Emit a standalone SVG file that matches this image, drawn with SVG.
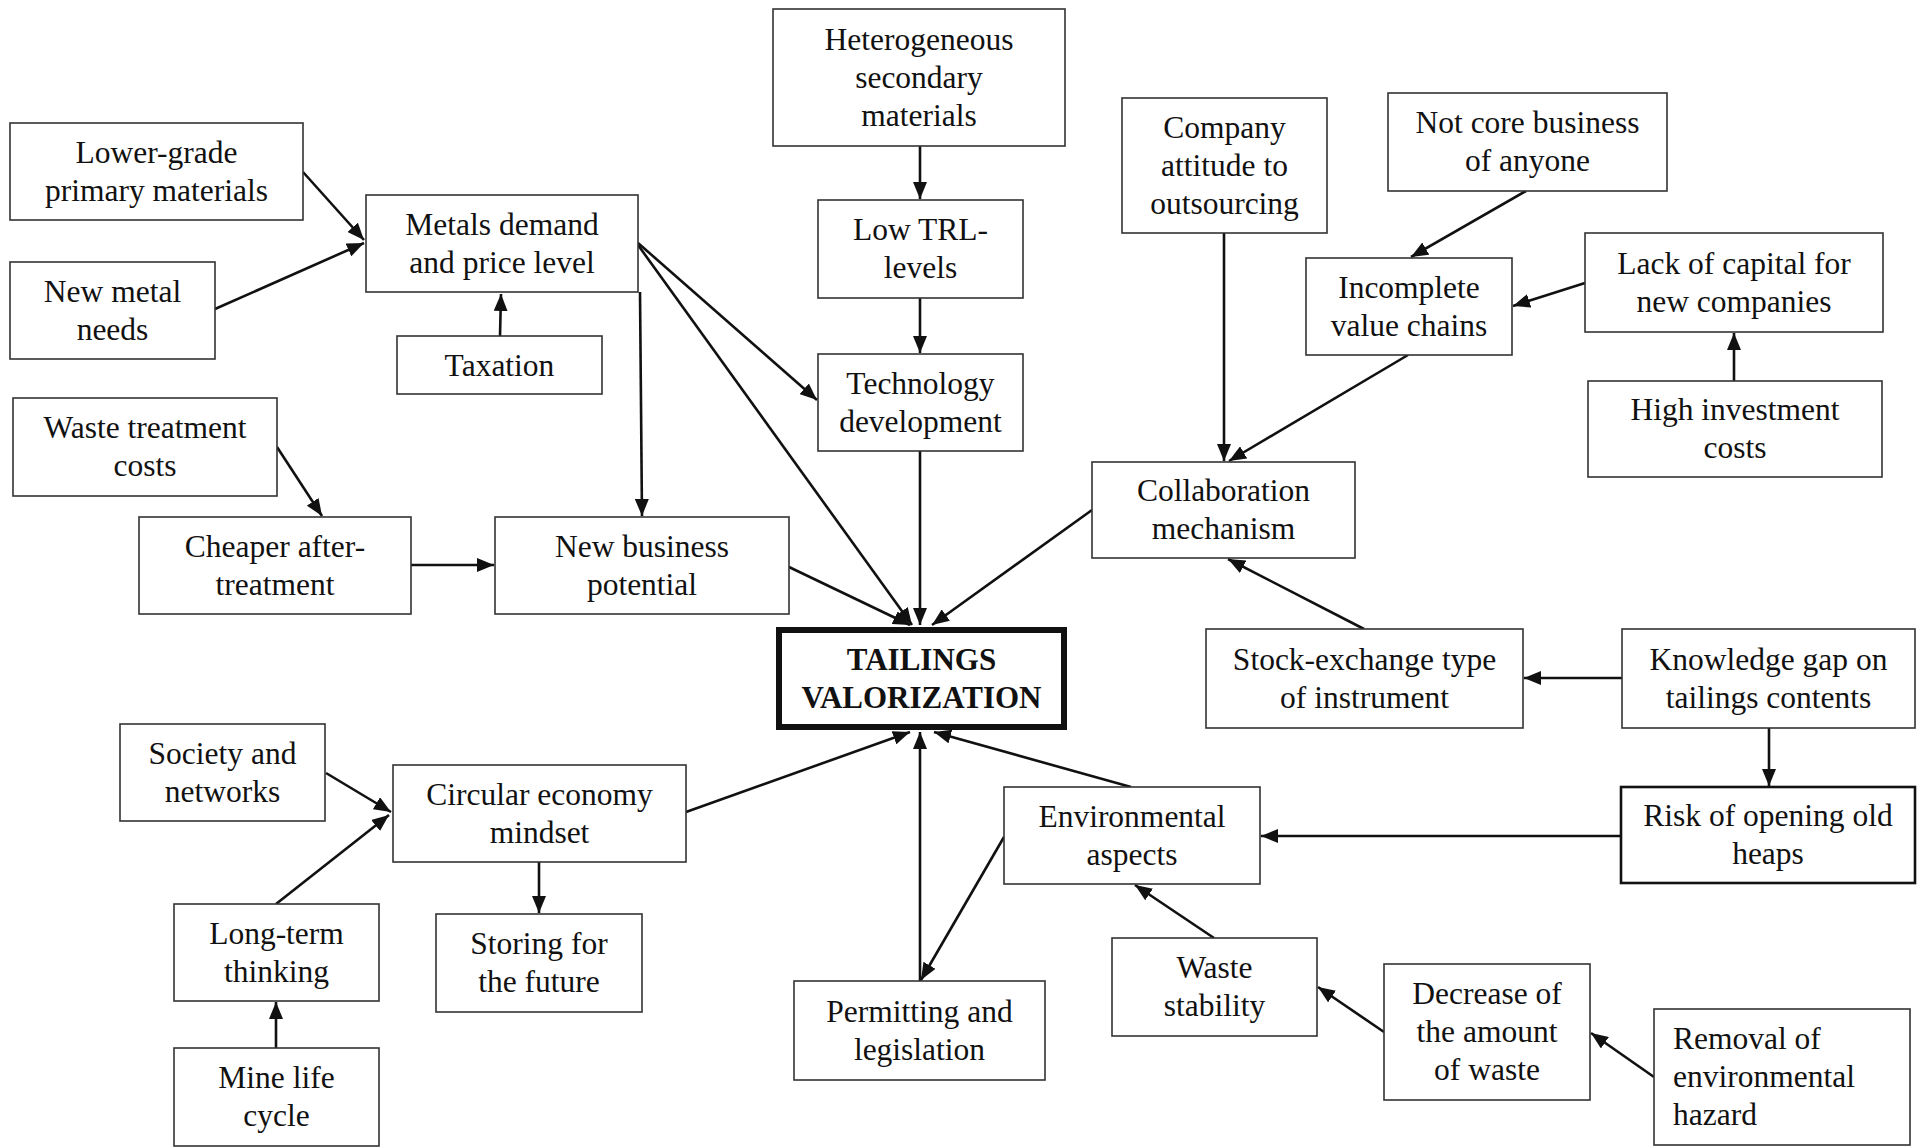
<svg xmlns="http://www.w3.org/2000/svg" width="1925" height="1147" viewBox="0 0 1925 1147">
<style>
.b{fill:#fff;stroke:#333;stroke-width:1.6}
.t{font-family:"Liberation Serif","Times New Roman",serif;font-size:31.5px;fill:#111;text-anchor:middle}
.tl{text-anchor:start}
.bold{font-weight:bold;font-size:31px}
.c line{stroke:#111;stroke-width:2.6}
.a{marker-end:url(#ah)}
</style>
<defs>
<marker id="ah" markerUnits="userSpaceOnUse" markerWidth="18" markerHeight="14" refX="17" refY="7" orient="auto">
<path d="M0,0 L17,7 L0,14 z" fill="#111"/>
</marker>
</defs>
<rect width="1925" height="1147" fill="#fff"/>
<g class="c" id="connectors">
<line class="a" x1="303" y1="172" x2="364" y2="240"/>
<line class="a" x1="215" y1="309" x2="364" y2="243"/>
<line class="a" x1="500" y1="336" x2="501" y2="294"/>
<line class="a" x1="638" y1="243" x2="817" y2="400"/>
<line class="a" x1="638" y1="245" x2="912" y2="625"/>
<line class="a" x1="640" y1="292" x2="642" y2="516"/>
<line class="a" x1="920" y1="146" x2="920" y2="199"/>
<line class="a" x1="920" y1="298" x2="920" y2="353"/>
<line class="a" x1="920" y1="451" x2="920" y2="625"/>
<line class="a" x1="1224" y1="233" x2="1224" y2="461"/>
<line class="a" x1="1408" y1="355" x2="1229" y2="461"/>
<line class="a" x1="1526" y1="191" x2="1411" y2="257"/>
<line class="a" x1="1585" y1="283" x2="1513" y2="306"/>
<line class="a" x1="1734" y1="381" x2="1734" y2="333"/>
<line class="a" x1="277" y1="447" x2="322" y2="516"/>
<line class="a" x1="411" y1="565" x2="494" y2="565"/>
<line class="a" x1="789" y1="567" x2="910" y2="625"/>
<line class="a" x1="1092" y1="510" x2="932" y2="625"/>
<line class="a" x1="1364" y1="629" x2="1228" y2="559"/>
<line class="a" x1="1622" y1="678" x2="1524" y2="678"/>
<line class="a" x1="1769" y1="728" x2="1769" y2="786"/>
<line class="a" x1="1621" y1="836" x2="1261" y2="836"/>
<line class="a" x1="1131" y1="787" x2="934" y2="732"/>
<line class="a" x1="1004" y1="837" x2="921" y2="980"/>
<line class="a" x1="920" y1="981" x2="920" y2="732"/>
<line class="a" x1="686" y1="812" x2="910" y2="732"/>
<line class="a" x1="326" y1="773" x2="391" y2="812"/>
<line class="a" x1="276" y1="904" x2="389" y2="815"/>
<line class="a" x1="539" y1="862" x2="539" y2="913"/>
<line class="a" x1="276" y1="1048" x2="276" y2="1002"/>
<line class="a" x1="1214" y1="938" x2="1135" y2="885"/>
<line class="a" x1="1384" y1="1032" x2="1318" y2="987"/>
<line class="a" x1="1654" y1="1077" x2="1591" y2="1033"/>
</g>
<g id="n-lowergrade"><rect class="b" x="10" y="123" width="293" height="97"/><text class="t" x="156.5" y="162.5">Lower-grade</text><text class="t" x="156.5" y="200.5">primary materials</text></g>
<g id="n-newmetal"><rect class="b" x="10" y="262" width="205" height="97"/><text class="t" x="112.5" y="301.5">New metal</text><text class="t" x="112.5" y="339.5">needs</text></g>
<g id="n-metals"><rect class="b" x="366" y="195" width="272" height="97"/><text class="t" x="502" y="234.5">Metals demand</text><text class="t" x="502" y="272.5">and price level</text></g>
<g id="n-taxation"><rect class="b" x="397" y="336" width="205" height="58"/><text class="t" x="499.5" y="376">Taxation</text></g>
<g id="n-hetero"><rect class="b" x="773" y="9" width="292" height="137"/><text class="t" x="919" y="49.5">Heterogeneous</text><text class="t" x="919" y="87.5">secondary</text><text class="t" x="919" y="125.5">materials</text></g>
<g id="n-lowtrl"><rect class="b" x="818" y="200" width="205" height="98"/><text class="t" x="920.5" y="240">Low TRL-</text><text class="t" x="920.5" y="278">levels</text></g>
<g id="n-tech"><rect class="b" x="818" y="354" width="205" height="97"/><text class="t" x="920.5" y="393.5">Technology</text><text class="t" x="920.5" y="431.5">development</text></g>
<g id="n-company"><rect class="b" x="1122" y="98" width="205" height="135"/><text class="t" x="1224.5" y="137.5">Company</text><text class="t" x="1224.5" y="175.5">attitude to</text><text class="t" x="1224.5" y="213.5">outsourcing</text></g>
<g id="n-notcore"><rect class="b" x="1388" y="93" width="279" height="98"/><text class="t" x="1527.5" y="133">Not core business</text><text class="t" x="1527.5" y="171">of anyone</text></g>
<g id="n-incomplete"><rect class="b" x="1306" y="258" width="206" height="97"/><text class="t" x="1409" y="297.5">Incomplete</text><text class="t" x="1409" y="335.5">value chains</text></g>
<g id="n-lack"><rect class="b" x="1585" y="233" width="298" height="99"/><text class="t" x="1734" y="273.5">Lack of capital for</text><text class="t" x="1734" y="311.5">new companies</text></g>
<g id="n-high"><rect class="b" x="1588" y="381" width="294" height="96"/><text class="t" x="1735" y="420">High investment</text><text class="t" x="1735" y="458">costs</text></g>
<g id="n-wastetreat"><rect class="b" x="13" y="398" width="264" height="98"/><text class="t" x="145" y="438">Waste treatment</text><text class="t" x="145" y="476">costs</text></g>
<g id="n-cheaper"><rect class="b" x="139" y="517" width="272" height="97"/><text class="t" x="275" y="556.5">Cheaper after-</text><text class="t" x="275" y="594.5">treatment</text></g>
<g id="n-newbusiness"><rect class="b" x="495" y="517" width="294" height="97"/><text class="t" x="642" y="556.5">New business</text><text class="t" x="642" y="594.5">potential</text></g>
<g id="n-collab"><rect class="b" x="1092" y="462" width="263" height="96"/><text class="t" x="1223.5" y="501">Collaboration</text><text class="t" x="1223.5" y="539">mechanism</text></g>
<g id="n-tailings"><rect class="b" x="779" y="630" width="285" height="97" style="stroke:#111;stroke-width:6"/><text class="t bold" x="921.5" y="670">TAILINGS</text><text class="t bold" x="921.5" y="708">VALORIZATION</text></g>
<g id="n-stock"><rect class="b" x="1206" y="629" width="317" height="99"/><text class="t" x="1364.5" y="669.5">Stock-exchange type</text><text class="t" x="1364.5" y="707.5">of instrument</text></g>
<g id="n-knowledge"><rect class="b" x="1622" y="629" width="293" height="99"/><text class="t" x="1768.5" y="669.5">Knowledge gap on</text><text class="t" x="1768.5" y="707.5">tailings contents</text></g>
<g id="n-risk"><rect class="b" x="1621" y="787" width="294" height="96" style="stroke:#111;stroke-width:2.6"/><text class="t" x="1768" y="826">Risk of opening old</text><text class="t" x="1768" y="864">heaps</text></g>
<g id="n-env"><rect class="b" x="1004" y="787" width="256" height="97"/><text class="t" x="1132" y="826.5">Environmental</text><text class="t" x="1132" y="864.5">aspects</text></g>
<g id="n-society"><rect class="b" x="120" y="724" width="205" height="97"/><text class="t" x="222.5" y="763.5">Society and</text><text class="t" x="222.5" y="801.5">networks</text></g>
<g id="n-circular"><rect class="b" x="393" y="765" width="293" height="97"/><text class="t" x="539.5" y="804.5">Circular economy</text><text class="t" x="539.5" y="842.5">mindset</text></g>
<g id="n-longterm"><rect class="b" x="174" y="904" width="205" height="97"/><text class="t" x="276.5" y="943.5">Long-term</text><text class="t" x="276.5" y="981.5">thinking</text></g>
<g id="n-storing"><rect class="b" x="436" y="914" width="206" height="98"/><text class="t" x="539" y="954">Storing for</text><text class="t" x="539" y="992">the future</text></g>
<g id="n-mine"><rect class="b" x="174" y="1048" width="205" height="98"/><text class="t" x="276.5" y="1088">Mine life</text><text class="t" x="276.5" y="1126">cycle</text></g>
<g id="n-permit"><rect class="b" x="794" y="981" width="251" height="99"/><text class="t" x="919.5" y="1021.5">Permitting and</text><text class="t" x="919.5" y="1059.5">legislation</text></g>
<g id="n-wastestab"><rect class="b" x="1112" y="938" width="205" height="98"/><text class="t" x="1214.5" y="978">Waste</text><text class="t" x="1214.5" y="1016">stability</text></g>
<g id="n-decrease"><rect class="b" x="1384" y="964" width="206" height="136"/><text class="t" x="1487" y="1004">Decrease of</text><text class="t" x="1487" y="1042">the amount</text><text class="t" x="1487" y="1080">of waste</text></g>
<g id="n-removal"><rect class="b" x="1654" y="1009" width="256" height="136"/><text class="t tl" x="1673" y="1049">Removal of</text><text class="t tl" x="1673" y="1087">environmental</text><text class="t tl" x="1673" y="1125">hazard</text></g>
</svg>
